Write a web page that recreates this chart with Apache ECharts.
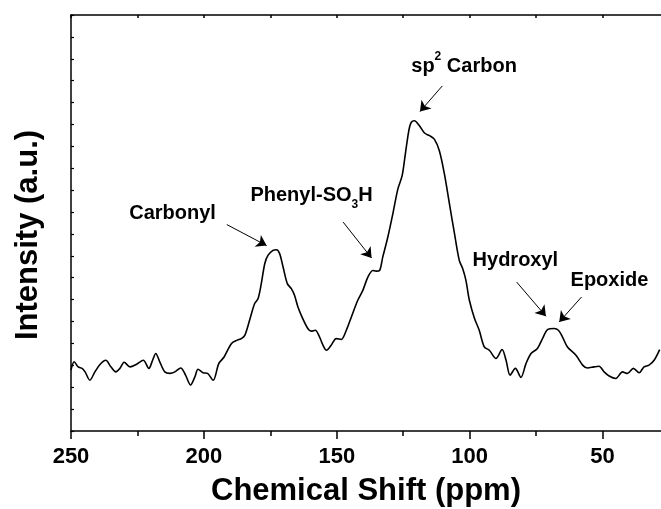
<!DOCTYPE html>
<html>
<head>
<meta charset="utf-8">
<script src="https://cdn.jsdelivr.net/npm/echarts@6/dist/echarts.min.js"></script>
<style>html,body{margin:0;padding:0;background:#fff;}#c{width:661px;height:509px;}</style>
</head>
<body>
<div id="c"></div>
<script>
const ppm = [250.0,248.8,247.3,245.8,244.7,242.9,241.0,239.1,236.9,235.0,233.1,231.6,230.0,227.8,225.3,222.8,220.7,219.3,218.1,216.6,214.7,212.8,210.9,208.7,206.9,205.0,203.4,202.2,200.3,198.6,196.5,194.4,192.4,189.6,187.4,185.9,184.6,182.8,180.9,179.6,178.4,177.1,175.9,174.0,172.7,171.5,170.2,168.6,167.1,165.9,164.6,163.1,160.9,159.6,158.1,156.5,155.2,153.9,152.1,150.2,148.3,146.4,144.5,142.1,140.2,138.3,136.4,135.2,133.9,132.7,130.8,128.9,127.0,125.4,124.2,122.9,122.0,120.8,118.9,117.0,115.1,113.3,111.4,109.5,107.6,105.7,103.9,102.6,101.4,100.1,98.2,96.4,94.5,92.6,90.1,87.8,86.3,84.8,82.8,80.7,78.8,76.9,74.5,72.6,70.7,68.2,66.6,65.1,63.2,60.0,57.5,55.7,53.2,51.3,49.4,47.5,45.0,42.5,40.6,38.4,36.2,34.4,32.5,30.6,28.5];
const intensity = [2.78,3.16,2.93,2.86,2.70,2.32,2.70,3.04,3.23,2.93,2.70,2.86,3.14,2.93,3.05,3.23,2.86,3.23,3.54,3.16,2.70,2.63,2.70,2.88,2.55,2.10,2.47,2.82,2.66,2.63,2.32,3.08,3.38,4.00,4.15,4.22,4.37,5.06,5.82,6.05,6.73,7.64,8.02,8.25,8.28,8.10,7.49,6.73,6.50,6.20,5.66,5.21,4.68,4.56,4.60,4.30,3.92,3.69,3.92,4.22,4.18,4.60,5.21,5.97,6.42,7.03,7.33,7.30,7.33,7.94,8.85,9.92,11.06,11.66,12.65,13.71,14.09,14.17,13.94,13.61,13.49,13.33,12.80,11.74,10.37,9.01,7.79,7.41,6.88,5.97,5.15,4.60,3.84,3.69,3.31,3.72,3.23,2.55,2.86,2.45,3.08,3.54,3.77,4.22,4.63,4.68,4.60,4.30,3.84,3.46,3.01,2.88,2.93,2.96,2.70,2.51,2.40,2.70,2.63,2.86,2.66,2.93,3.01,3.23,3.72];
const majorTicks = [250, 200, 150, 100, 50];
const minorTicks = [225, 175, 125, 75];
const allTicks = [250, 225, 200, 175, 150, 125, 100, 75, 50];

// annotation labels: [ppm, intensity, rich text]
const labels = [
  [211.8, 9.93, '{a|Carbonyl}'],
  [159.5, 10.75, '{a|Phenyl-SO}{sub|3}{a|H}'],
  [102.1, 16.67, '{a|sp}{sup|2}{a| Carbon}'],
  [82.8, 7.79, '{a|Hydroxyl}'],
  [47.4, 6.88, '{a|Epoxide}']
];
// arrows: [fromPpm, fromI, toPpm, toI]
const arrows = [
  [191.4, 9.43, 176.4, 8.47],
  [147.6, 9.54, 136.9, 7.90],
  [110.3, 15.76, 118.7, 14.59],
  [82.3, 6.80, 71.3, 5.24],
  [57.9, 6.12, 66.3, 4.98]
];

const FONT = 'Liberation Sans, Arial, sans-serif';
const chart = echarts.init(document.getElementById('c'), null, {renderer: 'canvas'});
const axisLine = {show: true, lineStyle: {color: '#000', width: 1.5}};
const baseX = {type: 'value', min: 28, max: 250, inverse: true, splitLine: {show: false}};
chart.setOption({
  animation: false,
  backgroundColor: '#fff',
  grid: {left: 71, right: 0, top: 15, bottom: 78, containLabel: false, outerBoundsMode: 'none'},
  xAxis: [
    Object.assign({}, baseX, {
      position: 'bottom',
      name: 'Chemical Shift (ppm)', nameLocation: 'middle', nameGap: 45,
      nameTextStyle: {fontFamily: FONT, fontWeight: 'bold', fontSize: 31, color: '#000'},
      axisLine: axisLine,
      axisTick: {show: true, inside: false, length: 8, customValues: majorTicks, lineStyle: {color: '#000', width: 1.5}},
      axisLabel: {show: true, customValues: majorTicks, margin: 15, fontFamily: FONT, fontWeight: 'bold', fontSize: 22, color: '#000'}
    }),
    Object.assign({}, baseX, {
      position: 'bottom',
      axisLine: {show: false},
      axisTick: {show: true, inside: false, length: 5, customValues: minorTicks, lineStyle: {color: '#000', width: 1.5}},
      axisLabel: {show: false}
    }),
    Object.assign({}, baseX, {
      position: 'top',
      axisLine: axisLine,
      axisTick: {show: true, inside: true, length: 3, customValues: allTicks, lineStyle: {color: '#000', width: 1.5}},
      axisLabel: {show: false}
    })
  ],
  yAxis: {
    type: 'value', min: 0, max: 19, interval: 1,
    name: 'Intensity (a.u.)', nameLocation: 'middle', nameGap: 27, nameRotate: 90,
    nameTextStyle: {fontFamily: FONT, fontWeight: 'bold', fontSize: 31, color: '#000', padding: [0, 24, 0, 0]},
    axisLine: axisLine,
    axisTick: {show: true, inside: true, length: 3, lineStyle: {color: '#000', width: 1.2}},
    axisLabel: {show: false},
    splitLine: {show: false}
  },
  series: [{
    type: 'line',
    xAxisIndex: 0,
    data: ppm.map((p, i) => [p, intensity[i]]),
    smooth: 0.3,
    showSymbol: false,
    lineStyle: {color: '#000', width: 1.6},
    itemStyle: {color: '#000'},
    silent: true,
    markLine: {
      silent: true,
      symbol: ['none', 'arrow'],
      symbolSize: 10,
      label: {show: false},
      itemStyle: {color: '#000'},
      lineStyle: {color: '#000', width: 1, type: 'solid'},
      emphasis: {disabled: true},
      data: arrows.map(a => [{coord: [a[0], a[1]]}, {coord: [a[2], a[3]]}])
    },
    markPoint: {
      silent: true,
      symbol: 'circle',
      symbolSize: 0,
      itemStyle: {color: 'transparent'},
      label: {
        show: true, position: 'inside', color: '#000',
        rich: {
          a: {fontFamily: FONT, fontWeight: 'bold', fontSize: 20, color: '#000', lineHeight: 30},
          sup: {fontFamily: FONT, fontWeight: 'bold', fontSize: 12, color: '#000', lineHeight: 12, verticalAlign: 'top'},
          sub: {fontFamily: FONT, fontWeight: 'bold', fontSize: 12, color: '#000', lineHeight: 12, verticalAlign: 'bottom'}
        }
      },
      data: labels.map(l => ({coord: [l[0], l[1]], label: {formatter: l[2]}}))
    }
  }]
});
</script>
</body>
</html>
